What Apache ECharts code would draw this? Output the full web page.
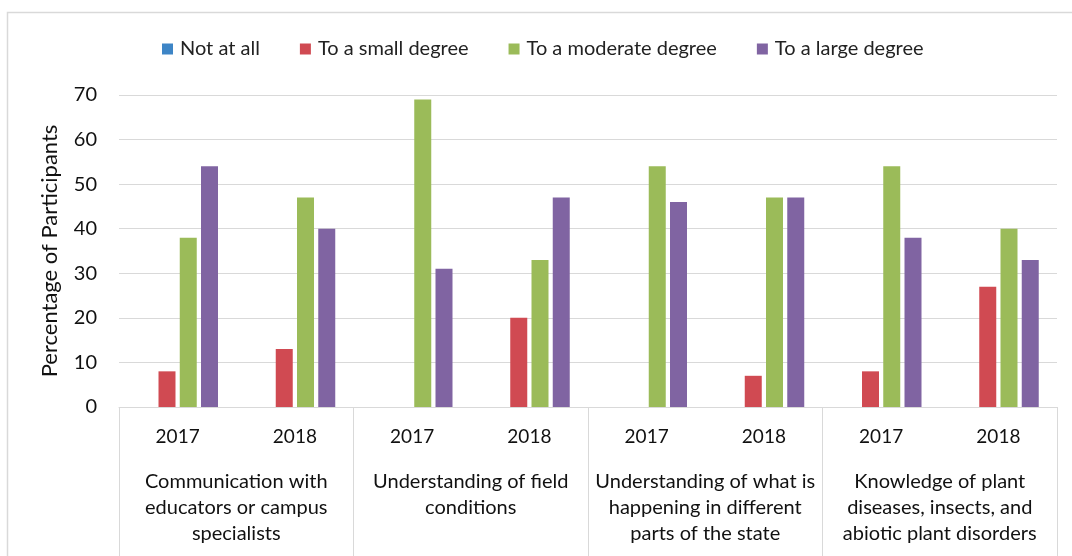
<!DOCTYPE html>
<html>
<head>
<meta charset="utf-8">
<script src="https://cdn.jsdelivr.net/npm/echarts@6/dist/echarts.min.js"></script>
<style>
  html, body { margin: 0; padding: 0; background: #fff; }
  #main { width: 1072px; height: 556px; }
</style>
</head>
<body>
<div id="main"></div>
<script>
// 数据
var years = ['2017', '2018', '2017', '2018', '2017', '2018', '2017', '2018'];
var groups = [
  'Communication with\neducators or campus\nspecialists',
  'Understanding of field\nconditions',
  'Understanding of what is\nhappening in different\nparts of the state',
  'Knowledge of plant\ndiseases, insects, and\nabiotic plant disorders'
];
var seriesNames = ['Not at all', 'To a small degree', 'To a moderate degree', 'To a large degree'];
var notAtAll = [0, 0, 0, 0, 0, 0, 0, 0];
var smallDegree = [8, 13, 0, 20, 0, 7, 8, 27];
var moderateDegree = [38, 47, 69, 33, 54, 47, 54, 40];
var largeDegree = [54, 40, 31, 47, 46, 47, 38, 33];
var yTicks = { min: 0, max: 70, step: 10 };

var colors = ['#3d85c6', '#d04a52', '#9bbb59', '#8064a2'];
var font = 'Lato, "Open Sans", sans-serif';

var chart = echarts.init(document.getElementById('main'));

function bar(name, data) {
  return {
    name: name,
    type: 'bar',
    data: data,
    barWidth: 17,
    barGap: '25%'
  };
}

var option = {
  color: colors,
  textStyle: { fontFamily: font },
  animation: false,
  legend: {
    top: 34,
    left: 157,
    itemWidth: 11,
    itemHeight: 11,
    itemGap: 40,
    icon: 'rect',
    textStyle: { fontSize: 20, color: '#222', fontFamily: font, padding: [0, 0, 0, 2] },
    data: seriesNames
  },
  grid: {
    left: 119,
    right: 15,
    top: 95,
    bottom: 149
  },
  xAxis: [{
    type: 'category',
    data: years,
    position: 'bottom',
    axisTick: { show: false },
    axisLine: { show: true, lineStyle: { color: '#d9d9d9', width: 1 } },
    axisLabel: { fontSize: 19, color: '#111', margin: 20, fontFamily: font }
  }, {
    type: 'category',
    data: groups,
    position: 'bottom',
    offset: 0,
    axisLine: { show: false },
    axisTick: { show: true, length: 150, interval: 0, lineStyle: { color: '#d9d9d9' } },
    axisLabel: { fontSize: 20, color: '#111', margin: 62, lineHeight: 26, interval: 0, fontFamily: font }
  }],
  yAxis: {
    type: 'value',
    min: yTicks.min,
    max: yTicks.max,
    interval: yTicks.step,
    name: 'Percentage of Participants',
    nameLocation: 'middle',
    nameGap: 58,
    nameTextStyle: { fontSize: 22, color: '#111', fontFamily: font },
    axisLine: { show: false },
    axisTick: { show: false },
    axisLabel: { fontSize: 20, color: '#111', margin: 22, fontFamily: font },
    splitLine: { lineStyle: { color: '#d9d9d9', width: 1 } }
  },
  graphic: [{
    type: 'rect',
    shape: { x: 7.5, y: 12.5, width: 1080, height: 560 },
    style: { fill: 'none', stroke: '#d9d9d9', lineWidth: 1.5 },
    silent: true
  }],
  series: [
    bar(seriesNames[0], notAtAll),
    bar(seriesNames[1], smallDegree),
    bar(seriesNames[2], moderateDegree),
    bar(seriesNames[3], largeDegree)
  ]
};

chart.setOption(option);
</script>
</body>
</html>
